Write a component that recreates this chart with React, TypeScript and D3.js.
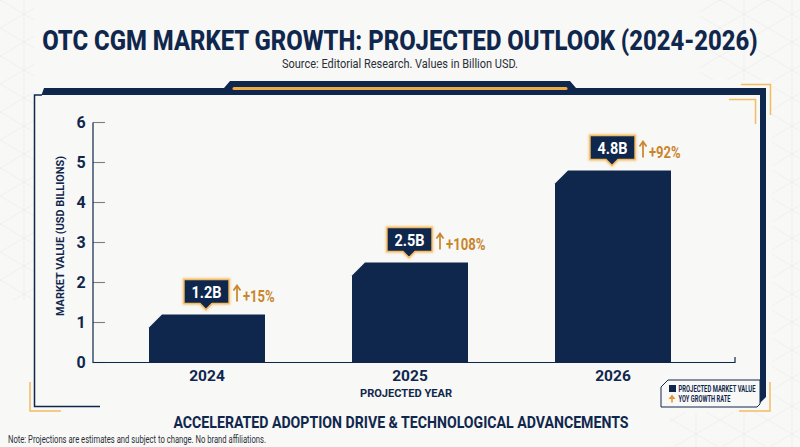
import React from "react";
import * as d3 from "d3";

const years = ["2024", "2025", "2026"];
const marketValues = [1.2, 2.5, 4.8];
const valueLabels = ["1.2B", "2.5B", "4.8B"];
const growthLabels = ["+15%", "+108%", "+92%"];
const yTicks = [0, 1, 2, 3, 4, 5, 6];

const navy = "#10274d";
const gold = "#f3bb62";
const amber = "#c9852a";
const bg = "#f8f8f6";
const font = "Roboto, 'Noto Sans', sans-serif";

const y = d3.scaleLinear().domain([0, 6]).range([362.5, 122.5]);
const x = d3.scaleBand<string>().domain(years).range([149, 671]).paddingInner(0.4286).paddingOuter(0);

const line = d3.line();

export default function App() {
  const chamfer = 10;
  return (
    <svg
      width={800}
      height={447}
      viewBox="0 0 800 447"
      style={{ position: "fixed", left: 0, top: 0, background: bg }}
      fontFamily={font}
    >
      <defs>
        <pattern id="tri" width="48" height="56" patternUnits="userSpaceOnUse">
          <path d="M0 0L24 14L48 0M0 28L24 14L48 28M0 28L24 42L48 28M0 56L24 42L48 56M24 0V56" fill="none" stroke="#e6e8e8" strokeWidth="0.8" />
        </pattern>
        <filter id="glow" x="-20%" y="-30%" width="140%" height="160%">
          <feGaussianBlur stdDeviation="1.2" />
        </filter>
      </defs>

      {/* faint background pattern at the edges */}
      <rect x="0" y="0" width="34" height="300" fill="url(#tri)" opacity="0.6" />
      <rect x="700" y="0" width="100" height="80" fill="url(#tri)" opacity="0.6" />
      <rect x="772" y="80" width="28" height="367" fill="url(#tri)" opacity="0.6" />
      <rect x="670" y="412" width="102" height="35" fill="url(#tri)" opacity="0.6" />

      <text
        transform="translate(400,49.5) scale(0.88,1)"
        textAnchor="middle"
        fontSize="28"
        fontWeight="800"
        fill={navy}
        textLength="813"
        lengthAdjust="spacingAndGlyphs"
      >
        OTC CGM MARKET GROWTH: PROJECTED OUTLOOK (2024-2026)
      </text>
      <text x="400" y="68" textAnchor="middle" fontSize="13" fill="#2b2f38" textLength="236" lengthAdjust="spacingAndGlyphs">
        Source: Editorial Research. Values in Billion USD.
      </text>

      {/* frame */}
      <path d="M44 88H224L230 81H570L576 88H766V397L760 403V95H41.5Z" fill={navy} />
      <path d={line([[42, 95], [34.5, 95], [34.5, 406.5], [100, 406.5]]) ?? ""} fill="none" stroke={navy} strokeWidth="1.5" />
      <line x1="234" x2="566" y1="88.5" y2="88.5" stroke={gold} strokeWidth="5" opacity="0.5" filter="url(#glow)" />
      <line x1="234" x2="566" y1="88.5" y2="88.5" stroke="#efab42" strokeWidth="3" strokeLinecap="round" />

      {/* corner brackets */}
      <g fill="none" stroke={gold} strokeWidth="1.5">
        <path d="M741 84.5H770.5V115" />
        <path d="M729 99.5H755.5V124" />
        <path d="M30 382V411H61" />
        <path d="M739 411H770V382" />
      </g>

      {/* axes */}
      {yTicks.map((t) => (
        <g key={t}>
          <line x1="93" x2="105" y1={y(t)} y2={y(t)} stroke="#7b8088" strokeWidth="1.1" />
          <text x="81" y={y(t)} dy="5.7" textAnchor="middle" fontSize="16" fontWeight="700" fill={navy}>
            {t}
          </text>
        </g>
      ))}
      <path d="M93 122.5V362.5H735V357" fill="none" stroke={navy} strokeWidth="1.2" />
      <text transform="translate(63.5,236) rotate(-90)" textAnchor="middle" fontSize="11.5" fontWeight="700" fill={navy} textLength="160" lengthAdjust="spacingAndGlyphs">
        MARKET VALUE (USD BILLIONS)
      </text>
      {years.map((yr) => (
        <text key={yr} x={(x(yr) ?? 0) + x.bandwidth() / 2} y="381" textAnchor="middle" fontSize="15.5" fontWeight="700" fill={navy}>
          {yr}
        </text>
      ))}
      <text x="406" y="397" textAnchor="middle" fontSize="11" fontWeight="700" fill={navy} textLength="92" lengthAdjust="spacingAndGlyphs">
        PROJECTED YEAR
      </text>

      {/* bars with labels */}
      {years.map((yr, i) => {
        const left = x(yr) ?? 0;
        const w = x.bandwidth();
        const top = y(marketValues[i]);
        const base = y(0);
        const cx = left + w / 2 - 1;
        const by = top - 35;
        const box = `M${cx - 22} ${by}H${cx + 23}V${by + 24}H${cx + 6}L${cx} ${by + 30}L${cx - 6} ${by + 24}H${cx - 22}Z`;
        return (
          <g key={yr}>
            <path d={`M${left + 13} ${top}H${left + w}V${base}H${left}V${top + chamfer + 3}Z`} fill={navy} />
            <path d={box} fill="none" stroke={gold} strokeWidth="3" opacity="0.6" filter="url(#glow)" />
            <path d={box} fill={navy} stroke={gold} strokeWidth="1.4" />
            <text x={cx + 0.5} y={by + 18.5} textAnchor="middle" fontSize="16" fontWeight="700" fill="#fff" textLength={valueLabels[i].length * 7.5} lengthAdjust="spacingAndGlyphs">
              {valueLabels[i]}
            </text>
            <path
              d={`M${cx + 31} ${by + 22}V${by + 7}M${cx + 27.5} ${by + 11}L${cx + 31} ${by + 6}L${cx + 34.5} ${by + 11}`}
              fill="none"
              stroke={amber}
              strokeWidth="1.7"
            />
            <text x={cx + 37} y={by + 22} fontSize="16" fontWeight="700" fill={amber} textLength={growthLabels[i].length * 7.9} lengthAdjust="spacingAndGlyphs">
              {growthLabels[i]}
            </text>
          </g>
        );
      })}

      {/* legend */}
      <path d="M668 380H760V404L757 407H661V387Z" fill={bg} stroke={navy} strokeWidth="1" />
      <rect x="669" y="385" width="7" height="7" fill={navy} />
      <path d="M672 402.5V398" fill="none" stroke="#e09a35" strokeWidth="1.6" />
      <path d="M668.5 399L672 394.5L675.5 399Z" fill="#e09a35" />
      <text x="678.5" y="391.5" fontSize="8.5" fontWeight="700" fill={navy} textLength="77" lengthAdjust="spacingAndGlyphs">
        PROJECTED MARKET VALUE
      </text>
      <text x="678.5" y="401.5" fontSize="8.5" fontWeight="700" fill={navy} textLength="52" lengthAdjust="spacingAndGlyphs">
        YOY GROWTH RATE
      </text>

      <text x="401" y="428" textAnchor="middle" fontSize="16" fontWeight="700" fill={navy} textLength="455" lengthAdjust="spacingAndGlyphs">
        ACCELERATED ADOPTION DRIVE &amp; TECHNOLOGICAL ADVANCEMENTS
      </text>
      <text x="8" y="443" fontSize="10" fill="#2b2f38" textLength="258" lengthAdjust="spacingAndGlyphs">
        Note: Projections are estimates and subject to change. No brand affiliations.
      </text>
    </svg>
  );
}
